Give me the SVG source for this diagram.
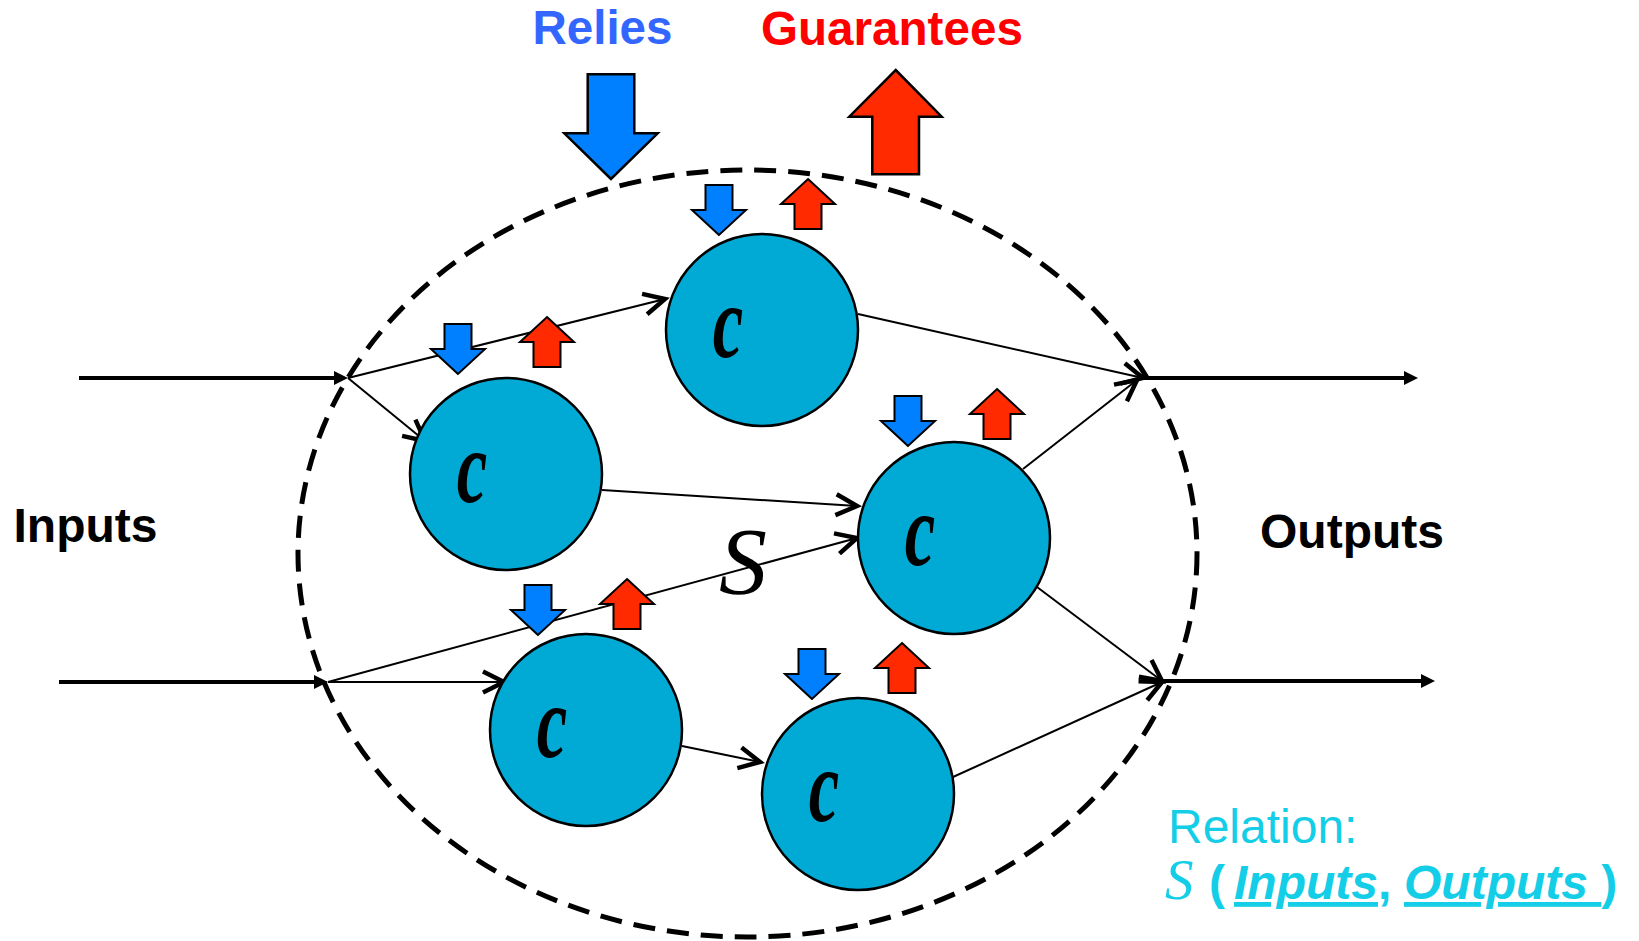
<svg xmlns="http://www.w3.org/2000/svg" width="1639" height="941" viewBox="0 0 1639 941">
  <defs>
    <style>
      .comp { fill: #00AAD4; stroke: #000; stroke-width: 2.5; }
      .clbl { font-family: "Liberation Serif", serif; font-style: italic; font-weight: bold; font-size: 104px; fill: #000; text-anchor: middle; }
      .rely { fill: #0080FF; stroke: #000; stroke-width: 2; stroke-linejoin: miter; }
      .guar { fill: #FF2A00; stroke: #000; stroke-width: 2; stroke-linejoin: miter; }
      .thin { stroke: #000; stroke-width: 2; fill: none; marker-end: url(#open); }
      .thick { stroke: #000; stroke-width: 4; fill: none; marker-end: url(#tri); }
      .bound { fill: none; stroke: #000; stroke-width: 5; stroke-dasharray: 22 12; }
      .side { font-family: "Liberation Sans", Arial, sans-serif; font-weight: bold; font-size: 48px; fill: #000; }
      .rel { font-family: "Liberation Sans", Arial, sans-serif; font-size: 48px; fill: #14CDE6; }
    </style>
    <marker id="open" markerUnits="userSpaceOnUse" viewBox="-26 -14 30 28" markerWidth="30" markerHeight="28" refX="0" refY="0" orient="auto" overflow="visible">
      <path d="M-21,-10.5 L0,0 L-21,10.5" fill="none" stroke="#000" stroke-width="4.5"/>
    </marker>
    <marker id="tri" markerUnits="userSpaceOnUse" viewBox="-2 -10 20 20" markerWidth="20" markerHeight="20" refX="4" refY="0" orient="auto" overflow="visible">
      <path d="M0,-7 L14,0 L0,7 Z" fill="#000"/>
    </marker>
    <path id="dn" d="M0,0 L-27,-25 L-13.5,-25 L-13.5,-50 L13.5,-50 L13.5,-25 L27,-25 Z"/>
    <path id="up" d="M0,0 L27,25 L13.5,25 L13.5,50 L-13.5,50 L-13.5,25 L-27,25 Z"/>
  </defs>

  <rect width="1639" height="941" fill="#fff"/>

  <!-- system boundary -->
  <g id="system">
    <ellipse class="bound" cx="747.5" cy="553.5" rx="449.5" ry="383.5"/>
    <text x="743" y="594" text-anchor="middle" font-family="'Liberation Serif', serif" font-style="italic" font-size="96" fill="#000">S</text>
  </g>

  <!-- connectors -->
  <g id="connectors">
    <line class="thick" x1="79" y1="378" x2="338" y2="378"/>
    <line class="thick" x1="59" y1="682" x2="318" y2="682"/>
    <line class="thick" x1="1143" y1="378" x2="1408" y2="378"/>
    <line class="thick" x1="1163" y1="681" x2="1425" y2="681"/>

    <line class="thin" x1="348" y1="378" x2="665" y2="299"/>
    <line class="thin" x1="348" y1="378" x2="425" y2="441"/>
    <line class="thin" x1="602" y1="490" x2="857" y2="506"/>
    <line class="thin" x1="328" y1="682" x2="857" y2="538"/>
    <line class="thin" x1="328" y1="682" x2="504" y2="682"/>
    <line class="thin" x1="682" y1="746" x2="760" y2="762"/>
    <line class="thin" x1="858" y1="314" x2="1143" y2="378"/>
    <line class="thin" x1="1023" y1="469" x2="1137" y2="380"/>
    <line class="thin" x1="1037" y1="587" x2="1162" y2="681"/>
    <line class="thin" x1="953" y1="777" x2="1162" y2="682"/>
  </g>

  <!-- components -->
  <g id="c1">
    <circle class="comp" cx="762" cy="330" r="96"/>
    <text class="clbl" transform="translate(728,357) scale(0.66,1)">c</text>
    <use href="#dn" class="rely" x="719" y="235"/>
    <use href="#up" class="guar" x="808" y="179"/>
  </g>
  <g id="c2">
    <circle class="comp" cx="506" cy="474" r="96"/>
    <text class="clbl" transform="translate(472,502) scale(0.66,1)">c</text>
    <use href="#dn" class="rely" x="458" y="374"/>
    <use href="#up" class="guar" x="547" y="317"/>
  </g>
  <g id="c3">
    <circle class="comp" cx="954" cy="538" r="96"/>
    <text class="clbl" transform="translate(920,565) scale(0.66,1)">c</text>
    <use href="#dn" class="rely" x="908" y="446"/>
    <use href="#up" class="guar" x="997" y="389"/>
  </g>
  <g id="c4">
    <circle class="comp" cx="586" cy="730" r="96"/>
    <text class="clbl" transform="translate(552,757) scale(0.66,1)">c</text>
    <use href="#dn" class="rely" x="538" y="635"/>
    <use href="#up" class="guar" x="627" y="579"/>
  </g>
  <g id="c5">
    <circle class="comp" cx="858" cy="794" r="96"/>
    <text class="clbl" transform="translate(824,821) scale(0.66,1)">c</text>
    <use href="#dn" class="rely" x="812" y="699"/>
    <use href="#up" class="guar" x="902" y="643"/>
  </g>

  <!-- system-level relies / guarantees -->
  <g id="relies">
    <path d="M611,179 L564.3,133.3 L587.7,133.3 L587.7,74.3 L634.3,74.3 L634.3,133.3 L657.7,133.3 Z" fill="#0080FF" stroke="#000" stroke-width="2.5"/>
    <text x="532.5" y="44" font-family="'Liberation Sans', Arial, sans-serif" font-weight="bold" font-size="47.5" fill="#3366FF">Relies</text>
  </g>
  <g id="guarantees">
    <path d="M895.7,70 L941.7,116.7 L919,116.7 L919,174.3 L872.3,174.3 L872.3,116.7 L849.3,116.7 Z" fill="#FF2A00" stroke="#000" stroke-width="2.5"/>
    <text x="761" y="45" font-family="'Liberation Sans', Arial, sans-serif" font-weight="bold" font-size="47.6" fill="#FF0000">Guarantees</text>
  </g>

  <!-- side labels -->
  <g id="inputs"><text class="side" x="13.5" y="542">Inputs</text></g>
  <g id="outputs"><text class="side" x="1260" y="548">Outputs</text></g>

  <!-- relation legend -->
  <g id="relation">
    <text class="rel" x="1168" y="843">Relation:</text>
    <text class="rel" y="899">
      <tspan x="1165" font-family="'Liberation Serif', serif" font-style="italic" font-size="57">S</tspan>
      <tspan x="1209" font-weight="bold">(</tspan>
      <tspan x="1234" font-weight="bold" font-style="italic" text-decoration="underline">Inputs</tspan><tspan font-weight="bold">,</tspan>
      <tspan x="1404" font-weight="bold" font-style="italic" text-decoration="underline">Outputs&#160;</tspan><tspan font-weight="bold">)</tspan>
    </text>
  </g>
</svg>
